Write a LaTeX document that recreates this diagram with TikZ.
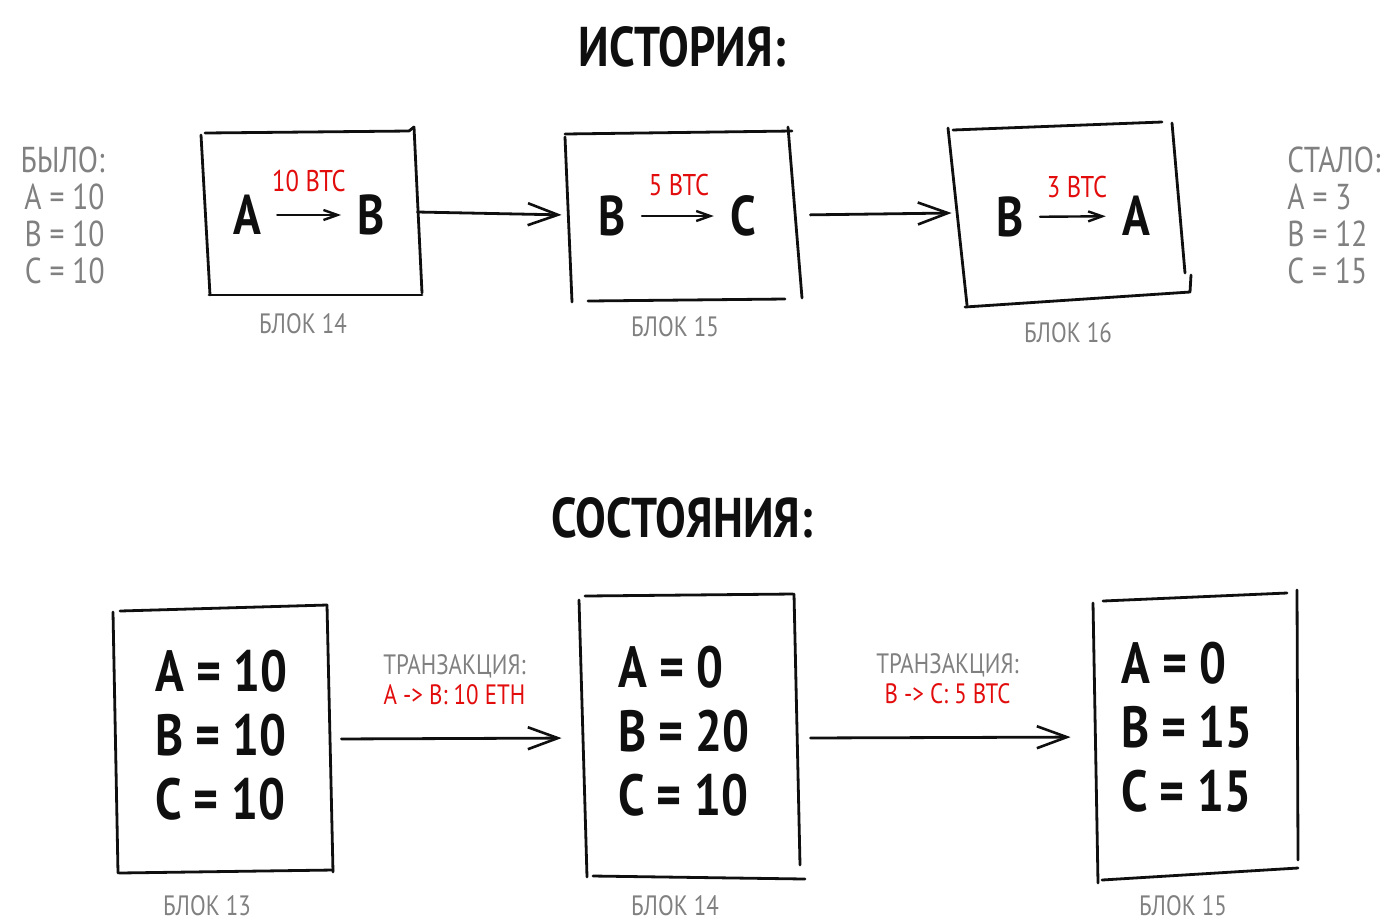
\documentclass[tikz,border=0pt]{standalone}
\usepackage{fontspec}
\setmainfont{PT Sans}[FakeStretch=0.82]
\usetikzlibrary{arrows.meta}
\definecolor{ink}{RGB}{15,15,15}
\definecolor{pencil}{RGB}{128,128,128}
\definecolor{note}{RGB}{226,12,12}

\begin{document}
\begin{tikzpicture}[x=0.5pt, y=-0.5pt, line cap=round, line join=round,
  pen/.style={draw=ink, line width=1.4pt},
  flow/.style={pen, -{Straight Barb[length=15pt, width=11pt, line width=1.3pt]}},
  pass/.style={pen, line width=1.2pt, -{Straight Barb[length=7pt, width=5pt, line width=1.2pt]},
    shorten <=8pt, shorten >=8pt},
  blk/.style={inner sep=0pt},
  head/.style={font=\fontsize{28}{30}\selectfont\bfseries, text=ink},
  who/.style={font=\fontsize{28}{30}\selectfont\bfseries, text=ink, inner sep=0pt},
  amt/.style={font=\fontsize{15}{16}\selectfont, text=note, inner sep=0pt},
  lbl/.style={font=\fontsize{14}{15}\selectfont, text=pencil, inner sep=0pt},
  bal/.style={font=\fontsize{18}{18.5}\selectfont, text=pencil, inner sep=0pt},
  state/.style={font=\fontsize{29}{32}\selectfont\bfseries, text=ink, align=left,
    anchor=west, inner sep=0pt},
  tx/.style={font=\fontsize{14}{15}\selectfont, text=pencil, align=center, inner sep=0pt}]
\useasboundingbox (0,0) rectangle (1396,923);

% history chain
\node[head] (hist) at (682,47) {ИСТОРИЯ:};
\node[blk, minimum width=105pt, minimum height=82pt] (b14) at (312,212) {};
\node[blk, minimum width=115pt, minimum height=84pt] (b15) at (683,215) {};
\node[blk, minimum width=118pt, minimum height=89pt] (b16) at (1070,213) {};
% box outlines, drawn by hand
\draw[pen] (205,133) -- (409,131) -- (414,127);
\draw[pen] (201,135) -- (210,295);
\draw[pen] (414,127) -- (422,293);
\draw[pen] (209,295) -- (422,295);
\draw[pen] (565,134) -- (792,131);
\draw[pen] (565,137) -- (572,302);
\draw[pen] (788,127) -- (802,298);
\draw[pen] (588,301) -- (785,299);
\draw[pen] (953,130) -- (1162,122);
\draw[pen] (948,128) -- (967,305);
\draw[pen] (1172,123) -- (1185,273);
\draw[pen] (1191,275) -- (1190,292) -- (965,307);

\node[who] (p14) at (247,215) {A};
\node[who] (r14) at (371,215) {B};
\node[amt] (v14) at (309,181) {10 BTC};
\draw[pass] (p14) -- (r14);
\node[who] (p15) at (612,216) {B};
\node[who] (r15) at (743,216) {C};
\node[amt] (v15) at (679,185) {5 BTC};
\draw[pass] (p15) -- (r15);
\node[who] (p16) at (1010,217) {B};
\node[who] (r16) at (1136,216) {A};
\node[amt] (v16) at (1077,187) {3 BTC};
\draw[pass] (p16) -- (r16);

\draw[flow, shorten >=3pt] (b14.east) -- (b15.west);
\draw[flow, shorten <=6pt] (b15.east) -- (b16.west);

\node[lbl] (n14) at (303,324) {БЛОК 14};
\node[lbl] (n15) at (675,327) {БЛОК 15};
\node[lbl] (n16) at (1068,333) {БЛОК 16};

\node[bal, anchor=east, align=right] (was) at (105,215) {БЫЛО:\\A = 10\\B = 10\\C = 10};
\node[bal, anchor=west, align=left] (now) at (1287,215) {СТАЛО:\\A = 3\\B = 12\\C = 15};

% state snapshots
\node[head] (snap) at (682,518) {СОСТОЯНИЯ:};
\node[blk, minimum width=108pt, minimum height=134pt] (s13) at (223,739) {};
\node[blk, minimum width=112pt, minimum height=142pt] (s14) at (690,738) {};
\node[blk, minimum width=102pt, minimum height=146pt] (s15) at (1195,737) {};
\draw[pen] (120,611) -- (327,605);
\draw[pen] (113,612) -- (118,873);
\draw[pen] (327,605) -- (333,872);
\draw[pen] (119,873) -- (333,870);
\draw[pen] (585,596) -- (793,594);
\draw[pen] (579,600) -- (587,877);
\draw[pen] (794,594) -- (800,865);
\draw[pen] (593,876) -- (805,879);
\draw[pen] (1103,601) -- (1287,593);
\draw[pen] (1093,603) -- (1098,883);
\draw[pen] (1297,590) -- (1298,860);
\draw[pen] (1102,880) -- (1298,868);

\node[state] (t13) at (155,735) {A = 10\\B = 10\\C = 10};
\node[state] (t14) at (618,731) {A = 0\\B = 20\\C = 10};
\node[state] (t15) at (1121,727) {A = 0\\B = 15\\C = 15};

\draw[flow, shorten <=5pt, shorten >=8pt] (s13.east) -- (s14.west)
  node[tx, midway, above=16pt] (tx1) {ТРАНЗАКЦИЯ:\\\textcolor{note}{A -> B: 10 ETH}};
\draw[flow, shorten <=4pt, shorten >=11pt] (s14.east) -- (s15.west)
  node[tx, midway, above=16pt] (tx2) {ТРАНЗАКЦИЯ:\\\textcolor{note}{B -> C: 5 BTC}};

\node[lbl] (n13) at (207,906) {БЛОК 13};
\node[lbl] (m14) at (675,906) {БЛОК 14};
\node[lbl] (m15) at (1183,906) {БЛОК 15};
\end{tikzpicture}
\end{document}
